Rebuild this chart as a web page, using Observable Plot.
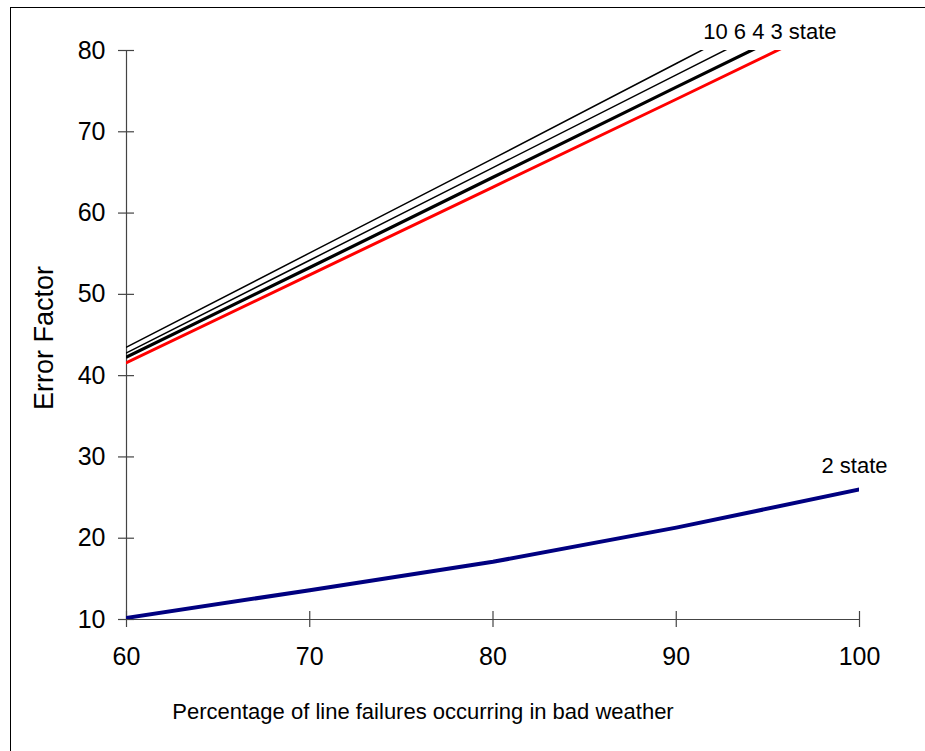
<!DOCTYPE html>
<html>
<head>
<meta charset="utf-8">
<script src="https://cdn.jsdelivr.net/npm/d3@7"></script>
<script src="https://cdn.jsdelivr.net/npm/@observablehq/plot@0.6"></script>
<style>
  html, body { margin: 0; padding: 0; background: #fff; }
  #wrap { position: relative; width: 925px; height: 751px; overflow: hidden; }
  #border { position: absolute; left: 10px; top: 7px; width: 2000px; height: 2000px;
            border-left: 1.5px solid #000; border-top: 1.5px solid #000; pointer-events: none; }
</style>
</head>
<body>
<div id="wrap"><div id="chart"></div><div id="border"></div></div>
<script>
// Data
const xValues = [60, 70, 80, 90, 100];
const state10 = [43.5, 55.1, 66.7, 78.4, 90.1];
const state6  = [42.8, 54.2, 65.6, 77.0, 88.4];
const state4  = [42.3, 53.3, 64.4, 75.5, 86.5];
const state3  = [41.6, 52.4, 63.2, 74.0, 84.9];
const state2  = [10.2, 13.6, 17.1, 21.3, 26.0];

const xTicks = [60, 70, 80, 90, 100];
const yTicks = [10, 20, 30, 40, 50, 60, 70, 80];

const xTitle = "Percentage of line failures occurring in bad weather";
const yTitle = "Error Factor";

const upperLabel = "10 6 4 3 state";
const upperLabelAt = {x: 95, y: 80};
const lowerLabel = "2 state";
const lowerLabelAt = {x: 100, y: 26.0};

const toRows = (vals) => xValues.map((x, i) => ({x, y: vals[i]}));
const font = "'Liberation Sans', Arial, sans-serif";

const chart = Plot.plot({
  width: 925,
  height: 751,
  marginLeft: 126,
  marginRight: 66,
  marginTop: 50,
  marginBottom: 132,
  style: {fontFamily: font, background: "transparent", color: "#000"},
  x: {domain: [60, 100]},
  y: {domain: [10, 80]},
  marks: [
    // axis lines
    Plot.ruleX([60], {stroke: "#444", strokeWidth: 1.2}),
    Plot.ruleY([10], {stroke: "#444", strokeWidth: 1.2}),
    // crossing ticks
    Plot.ruleX(xTicks, {x: d => d, y1: 10, y2: 10, insetTop: 8, insetBottom: 8, stroke: "#444", strokeWidth: 1.2}),
    Plot.ruleY(yTicks, {y: d => d, x1: 60, x2: 60, insetLeft: 8, insetRight: 8, stroke: "#444", strokeWidth: 1.2}),
    // tick labels
    Plot.axisX({ticks: xTicks, tickSize: 0, tickPadding: 28, fontSize: 25, label: null, tickFormat: d => String(d)}),
    Plot.axisY({ticks: yTicks, tickSize: 0, tickPadding: 21, fontSize: 25, label: null, tickFormat: d => String(d)}),
    // axis titles
    Plot.text([xTitle], {frameAnchor: "bottom", textAnchor: "middle", lineAnchor: "middle", dx: -70, dy: 92, fontSize: 22, fill: "#000", text: d => d}),
    Plot.text([yTitle], {frameAnchor: "left", textAnchor: "middle", lineAnchor: "middle", rotate: -90, dx: -82, dy: 3, fontSize: 27, fill: "#000", text: d => d}),
    // series
    Plot.line(toRows(state10), {x: "x", y: "y", stroke: "#000", strokeWidth: 1.5, clip: true}),
    Plot.line(toRows(state6),  {x: "x", y: "y", stroke: "#000", strokeWidth: 1.5, clip: true}),
    Plot.line(toRows(state4),  {x: "x", y: "y", stroke: "#000", strokeWidth: 3.2, clip: true}),
    Plot.line(toRows(state3),  {x: "x", y: "y", stroke: "#ff0000", strokeWidth: 3, clip: true}),
    Plot.line(toRows(state2),  {x: "x", y: "y", stroke: "#000080", strokeWidth: 4, clip: true}),
    // series labels
    Plot.text([upperLabelAt], {x: "x", y: "y", text: () => upperLabel, fontSize: 22, fill: "#000",
      textAnchor: "middle", lineAnchor: "middle", dx: 2, dy: -19}),
    Plot.text([lowerLabelAt], {x: "x", y: "y", text: () => lowerLabel, fontSize: 22, fill: "#000",
      textAnchor: "middle", lineAnchor: "middle", dx: -5, dy: -23})
  ]
});
document.getElementById("chart").appendChild(chart);
</script>
</body>
</html>
